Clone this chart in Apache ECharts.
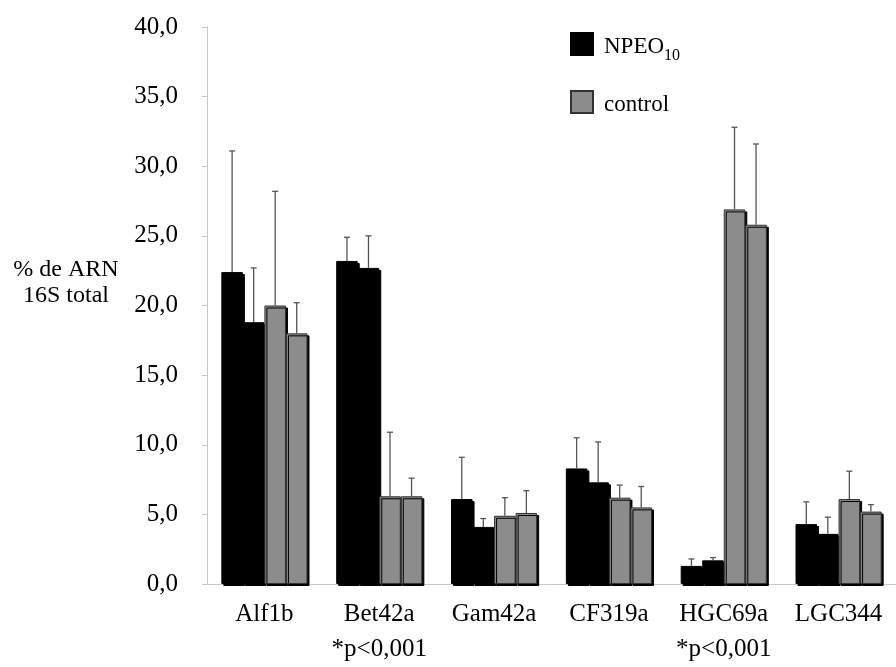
<!DOCTYPE html>
<html>
<head>
<meta charset="utf-8">
<script src="https://cdn.jsdelivr.net/npm/echarts@6/dist/echarts.min.js"></script>
<style>
  html, body { margin: 0; padding: 0; background: #fff; }
  #chart { width: 896px; height: 667px; }
</style>
</head>
<body>
<div id="chart"></div>
<script>
// categorias (sondas)
var categories = ['Alf1b', 'Bet42a\n*p<0,001', 'Gam42a', 'CF319a', 'HGC69a\n*p<0,001', 'LGC344'];
// NPEO10, dos réplicas
var npeoA = [22.4, 23.2, 6.1, 8.3, 1.3, 4.3];
var npeoASd = [8.7, 1.7, 3.0, 2.2, 0.5, 1.6];
var npeoB = [18.8, 22.7, 4.1, 7.3, 1.7, 3.6];
var npeoBSd = [3.9, 2.3, 0.6, 2.9, 0.2, 1.2];
// control, dos réplicas
var ctrlA = [20.0, 6.3, 4.9, 6.2, 26.9, 6.1];
var ctrlASd = [8.2, 4.6, 1.3, 0.9, 5.9, 2.0];
var ctrlB = [18.0, 6.3, 5.1, 5.5, 25.8, 5.2];
var ctrlBSd = [2.2, 1.3, 1.6, 1.5, 5.8, 0.5];
var yTicks = [0, 5, 10, 15, 20, 25, 30, 35, 40];

var FONT = '"Liberation Serif", "DejaVu Serif", serif';
var GAP = 0.25;

function barStyle(color, border) {
    return {
        color: color,
        borderColor: border,
        borderWidth: 1,
        shadowColor: '#000',
        shadowOffsetX: 2,
        shadowOffsetY: 2,
        shadowBlur: 0
    };
}

function errData(vals, sds) {
    return vals.map(function (v, i) { return [i, v, v + sds[i]]; });
}

// barras de error (solo hacia arriba)
function errSeries(k, vals, sds) {
    return {
        type: 'custom',
        z: 5,
        silent: true,
        data: errData(vals, sds),
        encode: { x: 0, y: [1, 2] },
        renderItem: function (params, api) {
            var band = api.size([1, 0])[0];
            var w = band * (1 - GAP) / 4;
            var c = api.coord([api.value(0), api.value(1)]);
            var t = api.coord([api.value(0), api.value(2)]);
            var x = c[0] + (k - 1.5) * w;
            var st = { stroke: '#555', lineWidth: 1.3 };
            return {
                type: 'group',
                children: [
                    { type: 'line', shape: { x1: x, y1: c[1], x2: x, y2: t[1] }, style: st },
                    { type: 'line', shape: { x1: x - 3, y1: t[1], x2: x + 3, y2: t[1] }, style: st }
                ]
            };
        }
    };
}

var option = {
    animation: false,
    textStyle: { fontFamily: FONT },
    grid: { left: 207, top: 27, bottom: 80, right: -9 },
    legend: {
        data: ['NPEO10', 'control'],
        orient: 'vertical',
        left: 570,
        top: 32,
        padding: 0,
        itemWidth: 22,
        itemHeight: 22,
        itemGap: 26,
        icon: 'rect',
        formatter: function (name) {
            return name === 'NPEO10' ? '{n|NPEO}{s|10}' : '{n|control}';
        },
        textStyle: {
            fontFamily: FONT,
            color: '#000',
            padding: [0, 0, 0, 6],
            rich: {
                n: { fontFamily: FONT, fontSize: 23, color: '#000', lineHeight: 28, verticalAlign: 'bottom' },
                s: { fontFamily: FONT, fontSize: 16, color: '#000', lineHeight: 20, verticalAlign: 'bottom', padding: [0, 0, -6, 0] }
            }
        }
    },
    xAxis: {
        type: 'category',
        data: categories,
        axisLine: { lineStyle: { color: '#c8c8c8' } },
        axisTick: { lineStyle: { color: '#c8c8c8' }, length: 5 },
        axisLabel: {
            fontFamily: FONT,
            fontSize: 25,
            color: '#000',
            margin: 13,
            lineHeight: 35,
            interval: 0
        }
    },
    yAxis: {
        type: 'value',
        min: yTicks[0],
        max: yTicks[yTicks.length - 1],
        interval: 5,
        splitLine: { show: false },
        axisLine: { show: true, lineStyle: { color: '#c8c8c8' } },
        axisTick: { show: true, lineStyle: { color: '#c8c8c8' }, length: 5 },
        axisLabel: {
            fontFamily: FONT,
            fontSize: 25,
            color: '#000',
            margin: 29,
            formatter: function (v) { return v.toFixed(1).replace('.', ','); }
        }
    },
    graphic: [{
        type: 'text',
        x: 66,
        y: 257,
        style: {
            text: '% de ARN\n16S total',
            font: '24px ' + FONT,
            fill: '#000',
            align: 'center',
            verticalAlign: 'top',
            lineHeight: 26
        }
    }],
    series: [
        { name: 'NPEO10', type: 'bar', data: npeoA, barGap: '0%', barCategoryGap: '25%', itemStyle: barStyle('#000', '#000') },
        { name: 'NPEO10', type: 'bar', data: npeoB, barGap: '0%', barCategoryGap: '25%', itemStyle: barStyle('#000', '#000') },
        { name: 'control', type: 'bar', data: ctrlA, barGap: '0%', barCategoryGap: '25%', itemStyle: barStyle('#8c8c8c', '#333') },
        { name: 'control', type: 'bar', data: ctrlB, barGap: '0%', barCategoryGap: '25%', itemStyle: barStyle('#8c8c8c', '#333') },
        errSeries(0, npeoA, npeoASd),
        errSeries(1, npeoB, npeoBSd),
        errSeries(2, ctrlA, ctrlASd),
        errSeries(3, ctrlB, ctrlBSd)
    ]
};

var chart = echarts.init(document.getElementById('chart'));
chart.setOption(option);
</script>
</body>
</html>
